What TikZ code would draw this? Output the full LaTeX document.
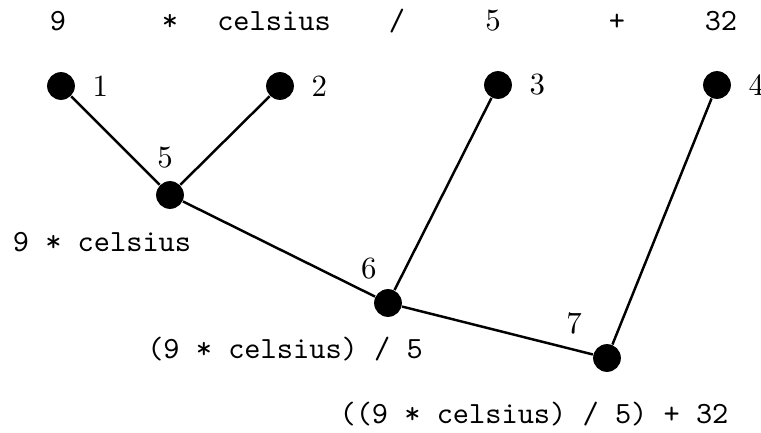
\documentclass[tikz,border=0pt]{standalone}
\begin{document}
\begin{tikzpicture}[x=0.324pt, y=-0.324pt,
    dot/.style={circle, fill, minimum size=9pt, inner sep=0pt},
    tok/.style={anchor=base, font=\ttfamily},
    edge/.style={line width=0.8pt}]
    \useasboundingbox (0,0) rectangle (761,432);

    % the tokens of the expression
    \node[tok] (tnine) at (58,30) {9};
    \node[tok] (ttimes) at (170,30) {*};
    \node[tok] (tcels) at (274,30) {celsius};
    \node[tok] (tdiv) at (397,30) {/};
    \node[anchor=base] (tfive) at (493,30) {5};
    \node[tok] (tplus) at (617,30) {+};
    \node[tok] (tthirty) at (721,30) {32};

    % leaves
    \node[dot, label={[label distance=2pt]0:1}] (n1) at (61,86) {};
    \node[dot, label={[label distance=2pt]0:2}] (n2) at (280,86) {};
    \node[dot, label={[label distance=2pt]0:3}] (n3) at (498,85) {};
    \node[dot, label={[label distance=2pt]0:4}] (n4) at (717,85) {};

    % inner nodes
    \node[dot, label={[xshift=-1.6pt, yshift=12pt]center:5}] (n5) at (170,195) {};
    \node[dot, label={[xshift=-6.2pt, yshift=11.3pt]center:6}] (n6) at (388,303) {};
    \node[dot, label={[xshift=-10.7pt, yshift=11.3pt]center:7}] (n7) at (607,358) {};

    \draw[edge] (n1) -- (n5) -- (n2);
    \draw[edge] (n5) -- (n6) -- (n3);
    \draw[edge] (n6) -- (n7) -- (n4);

    % partial results
    \node[tok] (rfive) at (102,251) {9 * celsius};
    \node[tok] (rsix) at (285,358) {(9 * celsius) / 5};
    \node[tok] (rseven) at (534,423) {((9 * celsius) / 5) + 32};
\end{tikzpicture}
\end{document}
